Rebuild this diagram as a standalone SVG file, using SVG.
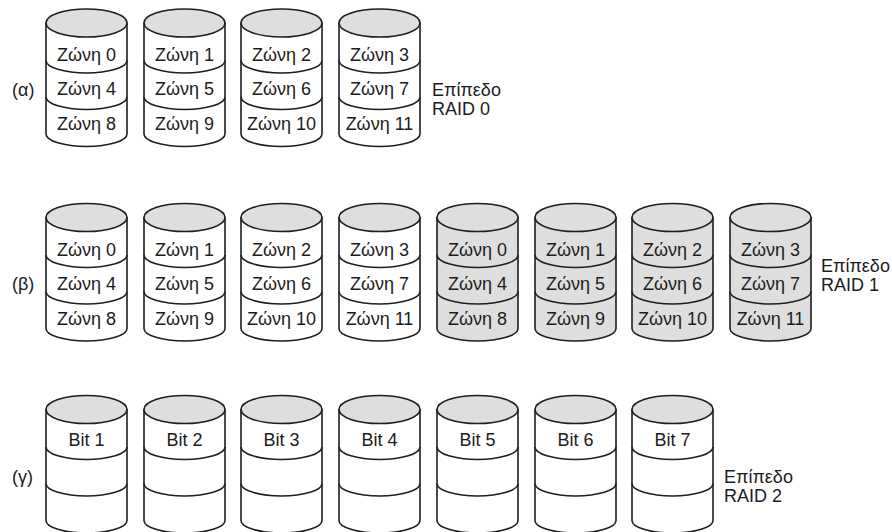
<svg xmlns="http://www.w3.org/2000/svg" xmlns:xlink="http://www.w3.org/1999/xlink" width="892" height="532" viewBox="0 0 892 532">
<style>
  .body { stroke: #1e1e1e; stroke-width: 1.6; stroke-linejoin: round; }
  .top { fill: #dedede; stroke: #1e1e1e; stroke-width: 1.6; }
  .sep { fill: none; stroke: #1e1e1e; stroke-width: 1.6; }
  text { font-family: "Liberation Sans", Arial, sans-serif; font-size: 18px; fill: #1c1c1c; }
  .c { text-anchor: middle; }
  .w { fill: #ffffff; }
  .g { fill: #dedede; }
</style>
<defs>
  <g id="cyl">
    <path class="body" d="M0,0 V111 A40.5,12.5 0 0 0 81,111 V0 Z"/>
    <path class="sep" d="M0,37.5 A40.5,12.5 0 0 0 81,37.5"/>
    <path class="sep" d="M0,74 A40.5,12.5 0 0 0 81,74"/>
    <ellipse class="top" cx="40.5" cy="0" rx="40.5" ry="14"/>
  </g>
</defs>
<rect x="0" y="0" width="892" height="532" fill="#ffffff"/>

<!-- Row alpha -->
<g id="row-a">
  <text x="12" y="96">(α)</text>
  <g id="a0"><use xlink:href="#cyl" x="46" y="23" class="w"/>
    <text class="c" x="86.5" y="61">Ζώνη 0</text><text class="c" x="86.5" y="95">Ζώνη 4</text><text class="c" x="86.5" y="130">Ζώνη 8</text></g>
  <g id="a1"><use xlink:href="#cyl" x="144" y="23" class="w"/>
    <text class="c" x="184.5" y="61">Ζώνη 1</text><text class="c" x="184.5" y="95">Ζώνη 5</text><text class="c" x="184.5" y="130">Ζώνη 9</text></g>
  <g id="a2"><use xlink:href="#cyl" x="241" y="23" class="w"/>
    <text class="c" x="281.5" y="61">Ζώνη 2</text><text class="c" x="281.5" y="95">Ζώνη 6</text><text class="c" x="281.5" y="130">Ζώνη 10</text></g>
  <g id="a3"><use xlink:href="#cyl" x="339" y="23" class="w"/>
    <text class="c" x="379.5" y="61">Ζώνη 3</text><text class="c" x="379.5" y="95">Ζώνη 7</text><text class="c" x="379.5" y="130">Ζώνη 11</text></g>
  <g id="a-label"><text x="432" y="96">Επίπεδο</text><text x="432" y="115">RAID 0</text></g>
</g>

<!-- Row beta -->
<g id="row-b">
  <text x="12" y="290">(β)</text>
  <g id="b0"><use xlink:href="#cyl" x="46" y="217.5" class="w"/>
    <text class="c" x="86.5" y="255.5">Ζώνη 0</text><text class="c" x="86.5" y="289.5">Ζώνη 4</text><text class="c" x="86.5" y="324.5">Ζώνη 8</text></g>
  <g id="b1"><use xlink:href="#cyl" x="144" y="217.5" class="w"/>
    <text class="c" x="184.5" y="255.5">Ζώνη 1</text><text class="c" x="184.5" y="289.5">Ζώνη 5</text><text class="c" x="184.5" y="324.5">Ζώνη 9</text></g>
  <g id="b2"><use xlink:href="#cyl" x="241" y="217.5" class="w"/>
    <text class="c" x="281.5" y="255.5">Ζώνη 2</text><text class="c" x="281.5" y="289.5">Ζώνη 6</text><text class="c" x="281.5" y="324.5">Ζώνη 10</text></g>
  <g id="b3"><use xlink:href="#cyl" x="339" y="217.5" class="w"/>
    <text class="c" x="379.5" y="255.5">Ζώνη 3</text><text class="c" x="379.5" y="289.5">Ζώνη 7</text><text class="c" x="379.5" y="324.5">Ζώνη 11</text></g>
  <g id="b4"><use xlink:href="#cyl" x="437" y="217.5" class="g"/>
    <text class="c" x="477.5" y="255.5">Ζώνη 0</text><text class="c" x="477.5" y="289.5">Ζώνη 4</text><text class="c" x="477.5" y="324.5">Ζώνη 8</text></g>
  <g id="b5"><use xlink:href="#cyl" x="535" y="217.5" class="g"/>
    <text class="c" x="575.5" y="255.5">Ζώνη 1</text><text class="c" x="575.5" y="289.5">Ζώνη 5</text><text class="c" x="575.5" y="324.5">Ζώνη 9</text></g>
  <g id="b6"><use xlink:href="#cyl" x="632" y="217.5" class="g"/>
    <text class="c" x="672.5" y="255.5">Ζώνη 2</text><text class="c" x="672.5" y="289.5">Ζώνη 6</text><text class="c" x="672.5" y="324.5">Ζώνη 10</text></g>
  <g id="b7"><use xlink:href="#cyl" x="730" y="217.5" class="g"/>
    <text class="c" x="770.5" y="255.5">Ζώνη 3</text><text class="c" x="770.5" y="289.5">Ζώνη 7</text><text class="c" x="770.5" y="324.5">Ζώνη 11</text></g>
  <g id="b-label"><text x="821" y="272">Επίπεδο</text><text x="821" y="291">RAID 1</text></g>
</g>

<!-- Row gamma -->
<g id="row-c">
  <text x="12" y="483">(γ)</text>
  <g id="c0"><use xlink:href="#cyl" x="46" y="409.5" class="w"/><text class="c" x="86.5" y="446">Bit 1</text></g>
  <g id="c1"><use xlink:href="#cyl" x="144" y="409.5" class="w"/><text class="c" x="184.5" y="446">Bit 2</text></g>
  <g id="c2"><use xlink:href="#cyl" x="241" y="409.5" class="w"/><text class="c" x="281.5" y="446">Bit 3</text></g>
  <g id="c3"><use xlink:href="#cyl" x="339" y="409.5" class="w"/><text class="c" x="379.5" y="446">Bit 4</text></g>
  <g id="c4"><use xlink:href="#cyl" x="437" y="409.5" class="w"/><text class="c" x="477.5" y="446">Bit 5</text></g>
  <g id="c5"><use xlink:href="#cyl" x="535" y="409.5" class="w"/><text class="c" x="575.5" y="446">Bit 6</text></g>
  <g id="c6"><use xlink:href="#cyl" x="632" y="409.5" class="w"/><text class="c" x="672.5" y="446">Bit 7</text></g>
  <g id="c-label"><text x="724" y="483">Επίπεδο</text><text x="724" y="502">RAID 2</text></g>
</g>
<g id="connectors"/>
</svg>
